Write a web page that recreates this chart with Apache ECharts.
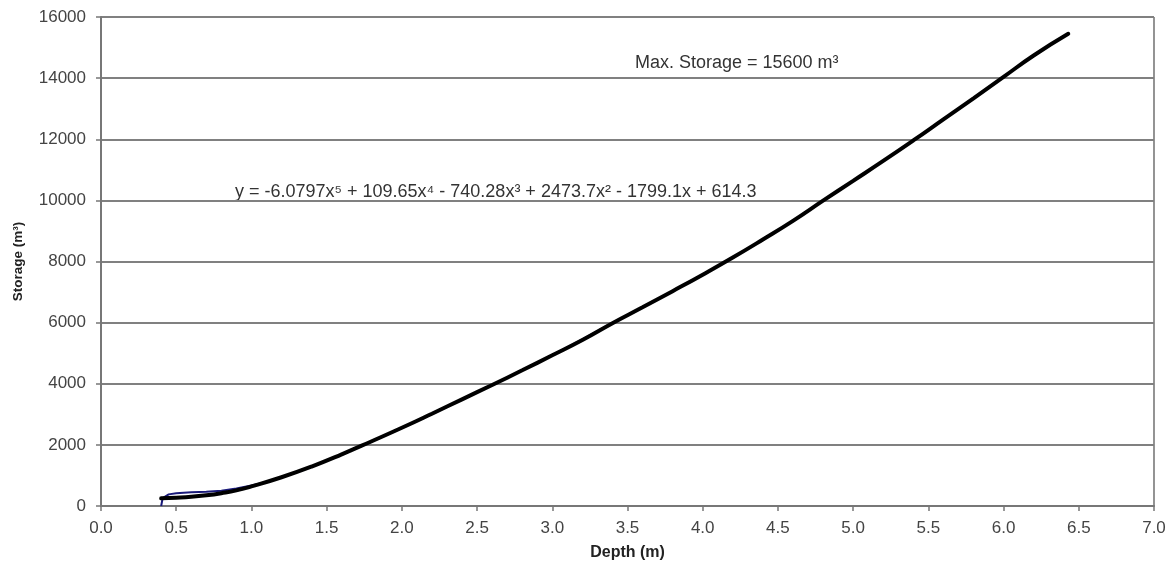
<!DOCTYPE html>
<html>
<head>
<meta charset="utf-8">
<script src="https://cdn.jsdelivr.net/npm/echarts@6/dist/echarts.min.js"></script>
<style>html,body{margin:0;padding:0;background:#fff}#c{width:1172px;height:568px}</style>
</head>
<body>
<div id="c"></div>
<script>
// Depth (m) and storage (m^3)
const trendDepth   = [0.40, 0.50, 0.60, 0.70, 0.80, 0.90, 1.00, 1.20, 1.40, 1.60, 1.80, 2.00, 2.20, 2.40, 2.60, 2.80, 3.00, 3.20, 3.40, 3.60, 3.80, 4.00, 4.20, 4.40, 4.60, 4.80, 5.00, 5.20, 5.40, 5.60, 5.80, 6.00, 6.20, 6.43];
const trendStorage = [250, 270, 300, 350, 420, 510, 640, 940, 1290, 1690, 2120, 2560, 3020, 3490, 3960, 4440, 4930, 5430, 5980, 6500, 7030, 7570, 8130, 8720, 9330, 9990, 10640, 11290, 11960, 12650, 13340, 14040, 14740, 15450];

const dataDepth   = [0.40, 0.41, 0.45, 0.50, 0.60, 0.70, 0.80, 0.90, 1.00, 1.10, 1.20, 1.40, 1.60, 1.80, 2.00, 2.20, 2.40, 2.60, 2.80, 3.00, 3.20, 3.40, 3.60, 3.80, 4.00, 4.20, 4.40, 4.60, 4.80, 5.00, 5.20, 5.40, 5.60, 5.80, 6.00, 6.20, 6.43];
const dataStorage = [0, 260, 380, 420, 450, 470, 500, 570, 670, 790, 930, 1280, 1680, 2110, 2550, 3010, 3480, 3960, 4440, 4940, 5450, 5990, 6500, 7030, 7570, 8130, 8720, 9320, 9980, 10640, 11290, 11960, 12650, 13340, 14040, 14740, 15450];

const xTicks = { min: 0, max: 7, step: 0.5 };
const yTicks = { min: 0, max: 16000, step: 2000 };

const maxText = 'Max. Storage = 15600 m³';
const eqText = 'y = -6.0797x⁵ + 109.65x⁴ - 740.28x³ + 2473.7x² - 1799.1x + 614.3';

const chart = echarts.init(document.getElementById('c'));
const font = 'Liberation Sans, Arial, sans-serif';
chart.setOption({
  animation: false,
  backgroundColor: '#fff',
  grid: { left: 101, right: 18, top: 17, bottom: 62 },
  xAxis: {
    type: 'value', min: xTicks.min, max: xTicks.max, interval: xTicks.step,
    name: 'Depth (m)', nameLocation: 'middle', nameGap: 39,
    nameTextStyle: { fontFamily: font, fontWeight: 'bold', fontSize: 16, color: '#222' },
    axisLine: { show: true, lineStyle: { color: '#777', width: 2 } },
    axisTick: { show: true, length: 5, lineStyle: { color: '#777', width: 1.5 } },
    axisLabel: { fontFamily: font, fontSize: 17, color: '#444', margin: 14, formatter: v => v.toFixed(1) },
    splitLine: { show: false }
  },
  yAxis: {
    type: 'value', min: yTicks.min, max: yTicks.max, interval: yTicks.step,
    name: 'Storage (m³)', nameLocation: 'middle', nameGap: 76,
    nameTextStyle: { fontFamily: font, fontWeight: 'bold', fontSize: 13.5, color: '#222' },
    axisLine: { show: true, lineStyle: { color: '#777', width: 2 } },
    axisTick: { show: true, length: 5, lineStyle: { color: '#777', width: 1.5 } },
    axisLabel: { fontFamily: font, fontSize: 17, color: '#444', margin: 15, formatter: v => String(v) },
    splitLine: { show: true, lineStyle: { color: '#808080', width: 1.8 } }
  },
  graphic: [
    { type: 'line', shape: { x1: 1154, y1: 17, x2: 1154, y2: 506 }, style: { stroke: '#888', lineWidth: 1.8 } },
    { type: 'text', left: 635, top: 54, style: { text: maxText, font: '18px ' + font, fill: '#333' } },
    { type: 'text', left: 235, top: 183, style: { text: eqText, font: '18px ' + font, fill: '#333' } }
  ],
  series: [
    {
      type: 'line', name: 'data', showSymbol: false, smooth: false,
      data: dataDepth.map((d, i) => [d, dataStorage[i]]),
      lineStyle: { color: '#1a1a7a', width: 2 }, z: 2
    },
    {
      type: 'line', name: 'trend', showSymbol: false, smooth: true,
      data: trendDepth.map((d, i) => [d, trendStorage[i]]),
      lineStyle: { color: '#000', width: 4, cap: 'round' }, z: 3
    }
  ]
});
</script>
</body>
</html>
